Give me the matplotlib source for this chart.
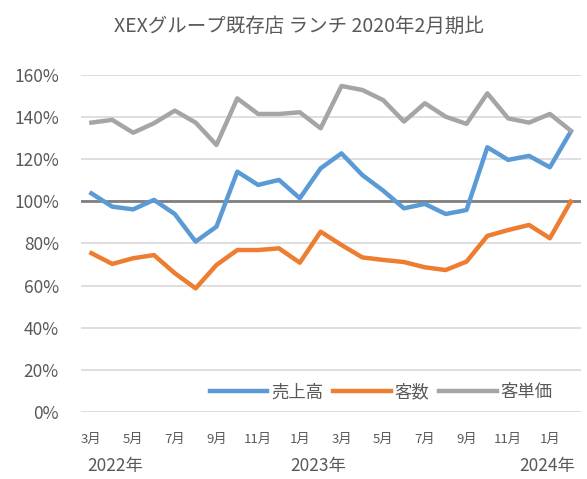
import matplotlib
matplotlib.use("Agg")
import matplotlib.pyplot as plt

plt.rcParams["font.family"] = ["Noto Sans CJK JP", "DejaVu Sans"]

# monthly values, Mar 2022 - Feb 2024 (% vs Feb 2020)
months = ["3月", "4月", "5月", "6月", "7月", "8月", "9月", "10月", "11月", "12月",
          "1月", "2月", "3月", "4月", "5月", "6月", "7月", "8月", "9月", "10月",
          "11月", "12月", "1月", "2月"]
sales = [103.8, 97.5, 96.2, 100.7, 94.0, 80.9, 88.0, 114.1, 107.8, 110.2,
         101.5, 115.7, 122.8, 112.5, 105.1, 96.7, 98.8, 94.0, 95.9, 125.7,
         119.7, 121.6, 116.2, 133.1]
customers = [75.4, 70.3, 73.0, 74.5, 65.9, 58.7, 69.8, 76.9, 76.9, 77.7,
             70.9, 85.6, 79.3, 73.4, 72.2, 71.2, 68.7, 67.4, 71.4, 83.6,
             86.4, 88.8, 82.5, 99.9]
unit_price = [137.4, 138.7, 132.6, 137.1, 143.1, 137.4, 126.8, 148.9, 141.5, 141.5,
              142.3, 134.7, 154.8, 152.9, 148.1, 137.9, 146.6, 140.2, 136.8, 151.3,
              139.4, 137.4, 141.5, 133.6]
years = ["2022年", "2023年", "2024年"]
yticks = [0, 20, 40, 60, 80, 100, 120, 140, 160]

text_color = "#595959"

fig = plt.figure(figsize=(5.87, 4.79), dpi=100)
ax = fig.add_axes([0.138, 0.1399, 0.852, 0.7035])

x = list(range(len(months)))
ax.plot(x, sales, color="#5B9BD5", linewidth=3.2, label="売上高", solid_joinstyle="round")
ax.plot(x, customers, color="#ED7D31", linewidth=3.2, label="客数", solid_joinstyle="round")
ax.plot(x, unit_price, color="#A5A5A5", linewidth=3.2, label="客単価", solid_joinstyle="round")
ax.axhline(100, color="#7F7F7F", linewidth=2, zorder=1)

ax.set_xlim(-0.5, len(months) - 0.5)
ax.set_ylim(0, 160)
ax.set_yticks(yticks)
ax.set_yticklabels([f"{v}%" for v in yticks])
ax.yaxis.grid(True, color="#D9D9D9", linewidth=1.2)
ax.set_axisbelow(True)
ax.set_xticks(x[::2])
ax.set_xticklabels(months[::2])
ax.tick_params(axis="x", length=0, labelsize=9.5, colors=text_color, pad=15)
ax.tick_params(axis="y", length=0, labelsize=12.5, colors=text_color, pad=16)
for s in ax.spines.values():
    s.set_visible(False)

ax.legend(loc="center", bbox_to_anchor=(0.6, 0.058), ncol=3, frameon=False,
          handlelength=3.3, handletextpad=0.2, columnspacing=0.6,
          fontsize=12.5, labelcolor=text_color)

fig.text(0.196, 0.017, years[0], fontsize=12.5, color=text_color, ha="center")
fig.text(0.542, 0.017, years[1], fontsize=12.5, color=text_color, ha="center")
fig.text(0.932, 0.017, years[2], fontsize=12.5, color=text_color, ha="center")

fig.text(0.51, 0.945, "XEXグループ既存店 ランチ 2020年2月期比", fontsize=14,
         color=text_color, ha="center", va="center")

fig.savefig("out.png", dpi=100)
